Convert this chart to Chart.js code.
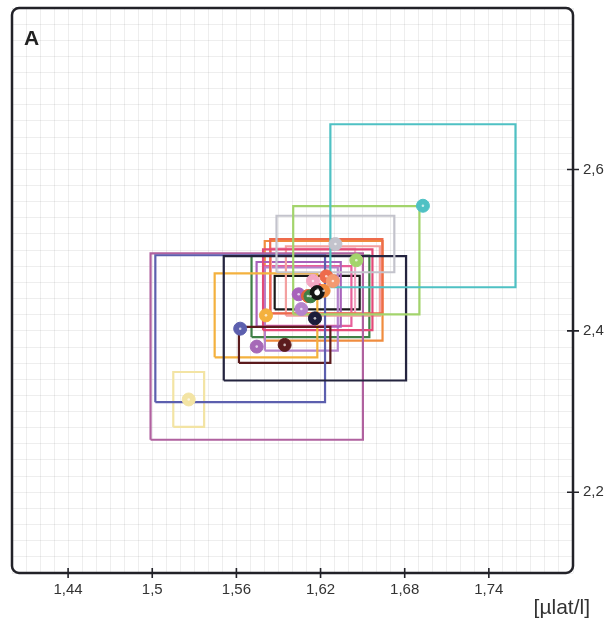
<!DOCTYPE html>
<html lang="de">
<head>
<meta charset="UTF-8">
<title>A</title>
<script src="https://cdn.jsdelivr.net/npm/chart.js"></script>
<style>
  html, body { margin: 0; padding: 0; background: #fff; }
</style>
</head>
<body>
<canvas id="chart" width="611" height="620"></canvas>
<script>
// one entry per group: mean value and half range on both axes
const groups    = ['g1', 'g2', 'g3', 'g4', 'g5', 'g6', 'g7', 'g8', 'g9', 'g10', 'g11', 'g12', 'g13', 'g14', 'g15', 'g16', 'g17', 'g18', 'g19'];
const xMean     = [1.693, 1.6455, 1.6306, 1.616, 1.5627, 1.5745, 1.526, 1.5944, 1.5811, 1.618, 1.6241, 1.6288, 1.6146, 1.6044, 1.6063, 1.611, 1.6128, 1.6222, 1.6176];
const yMean     = [2.555, 2.4875, 2.5076, 2.4155, 2.4027, 2.3805, 2.315, 2.3826, 2.4192, 2.4509, 2.4676, 2.4618, 2.4618, 2.4453, 2.427, 2.4432, 2.4428, 2.4496, 2.4474];
const xHalf     = [0.066, 0.045, 0.042, 0.065, 0.0605, 0.0757, 0.011, 0.0326, 0.0366, 0.039, 0.040, 0.0335, 0.030, 0.030, 0.026, 0.031, 0.042, 0.042, 0.0303];
const yHalf     = [0.101, 0.067, 0.035, 0.077, 0.091, 0.1154, 0.034, 0.0223, 0.052, 0.050, 0.046, 0.043, 0.040, 0.040, 0.0515, 0.037, 0.0505, 0.0617, 0.0207];
const boxColors = ['#4fc1c4', '#a3d46c', '#c3c3cc', '#24243f', '#5c5fae', '#b0619f', '#f3e4a4', '#5b1b1d', '#f4b13e', '#e34a78', '#ee6b4b', '#f3a0a0', '#f4a7c3', '#a862bb', '#b584cc', '#e8609a', '#3f8046', '#f08c3e', '#1a1a1a'];
const pointColors = ['#4fc1c4', '#a3d46c', '#c3c3cc', '#1c1c3a', '#5c5fae', '#a669b7', '#f3e4a4', '#5b1b1d', '#f4b13e', '#e34a78', '#ee6b4b', '#f39a70', '#f4a7c3', '#a862bb', '#b584cc', '#e0603a', '#3f8046', '#f08c3e', '#151515'];
const hollow = ['g19'];

const xTickLabels = [1.44, 1.5, 1.56, 1.62, 1.68, 1.74];
const yTickLabels = [2.2, 2.4, 2.6];

const near = (list, v) => list.some(t => Math.abs(t - v) < 1e-6);
const fmt = v => String(v).replace('.', ',');

// closed outline for each group, mean +/- half range
const boxSets = groups.map((g, i) => ({
  label: 'box ' + g,
  data: [
    { x: xMean[i] - xHalf[i], y: yMean[i] - yHalf[i] },
    { x: xMean[i] + xHalf[i], y: yMean[i] - yHalf[i] },
    { x: xMean[i] + xHalf[i], y: yMean[i] + yHalf[i] },
    { x: xMean[i] - xHalf[i], y: yMean[i] + yHalf[i] },
    { x: xMean[i] - xHalf[i], y: yMean[i] - yHalf[i] }
  ],
  showLine: true,
  borderColor: boxColors[i],
  borderWidth: 2.2,
  pointRadius: 0,
  order: 2
}));

const means = groups.map((g, i) => ({ x: xMean[i], y: yMean[i] }));

const pointSet = {
  label: 'mean',
  data: means,
  pointRadius: groups.map(g => hollow.includes(g) ? 7 : 6.5),
  pointBackgroundColor: pointColors,
  pointBorderColor: pointColors,
  pointBorderWidth: 1,
  order: 1
};

// small light centre in every marker, a clear hole in the ringed one
const dotSet = {
  label: 'dot',
  data: means,
  pointRadius: groups.map(g => hollow.includes(g) ? 2.8 : 1.3),
  pointBackgroundColor: groups.map(g => hollow.includes(g) ? '#fff' : 'rgba(255,255,255,0.7)'),
  pointBorderWidth: 0,
  order: 0
};

// frame, crossing tick marks and the extra texts
const frame = {
  id: 'frame',
  afterDraw(chart) {
    const { ctx, chartArea: a, scales } = chart;
    ctx.save();
    ctx.strokeStyle = '#222228';
    ctx.lineWidth = 2.5;
    ctx.beginPath();
    ctx.roundRect(a.left, a.top, a.right - a.left, a.bottom - a.top, 7);
    ctx.stroke();

    ctx.lineWidth = 1.6;
    ctx.beginPath();
    xTickLabels.forEach(v => {
      const px = scales.x.getPixelForValue(v);
      ctx.moveTo(px, a.bottom - 5);
      ctx.lineTo(px, a.bottom + 5);
    });
    yTickLabels.forEach(v => {
      const py = scales.y.getPixelForValue(v);
      ctx.moveTo(a.right - 6, py);
      ctx.lineTo(a.right + 6, py);
    });
    ctx.stroke();

    ctx.fillStyle = '#222';
    ctx.font = 'bold 21px "Liberation Sans", Arial, sans-serif';
    ctx.textAlign = 'left';
    ctx.textBaseline = 'alphabetic';
    ctx.fillText('A', a.left + 12, a.top + 37);

    ctx.fillStyle = '#333';
    ctx.font = '21px "Liberation Sans", Arial, sans-serif';
    ctx.textAlign = 'right';
    ctx.fillText('[µlat/l]', chart.width - 21, chart.height - 6);
    ctx.restore();
  }
};

const gridColor = 'rgba(0,0,0,0.065)';
const tickFont = { family: '"Liberation Sans", Arial, sans-serif', size: 15 };

const noOverflow = s => { s.paddingTop = 0; s.paddingBottom = 0; s.paddingLeft = 0; s.paddingRight = 0; };

new Chart(document.getElementById('chart'), {
  type: 'scatter',
  data: { datasets: [dotSet, pointSet, ...boxSets] },
  options: {
    responsive: false,
    animation: false,
    layout: { padding: { left: 12, top: 8, right: 0, bottom: 0 } },
    plugins: { legend: { display: false }, tooltip: { enabled: false } },
    scales: {
      x: {
        type: 'linear',
        min: 1.40,
        max: 1.80,
        afterFit: s => { s.height = 47; noOverflow(s); },
        border: { display: false },
        grid: { color: gridColor, drawTicks: false },
        ticks: {
          stepSize: 0.01,
          autoSkip: false,
          maxRotation: 0,
          padding: 8,
          color: '#333',
          font: tickFont,
          callback: v => near(xTickLabels, v) ? fmt(xTickLabels.find(t => Math.abs(t - v) < 1e-6)) : ''
        }
      },
      y: {
        type: 'linear',
        position: 'right',
        min: 2.10,
        max: 2.80,
        afterFit: s => { s.width = 38; noOverflow(s); },
        border: { display: false },
        grid: { color: gridColor, drawTicks: false },
        ticks: {
          stepSize: 0.02,
          autoSkip: false,
          padding: 10,
          color: '#333',
          font: tickFont,
          callback: v => near(yTickLabels, v) ? fmt(yTickLabels.find(t => Math.abs(t - v) < 1e-6)) : ''
        }
      }
    }
  },
  plugins: [frame]
});
</script>
</body>
</html>
